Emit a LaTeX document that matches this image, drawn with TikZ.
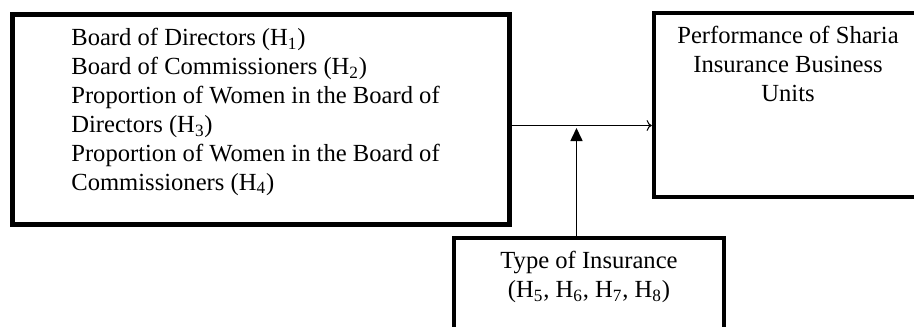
\documentclass[tikz,border=0pt]{standalone}
\usepackage{fontspec}
\setmainfont{Liberation Serif}
\usetikzlibrary{arrows.meta}
\tikzset{
	varbox/.style={draw, line width=2.55pt, inner sep=0pt},
	vartext/.style={inner sep=0pt, font=\fontsize{14}{16.44}\selectfont}
}

\begin{document}
\begin{tikzpicture}
			%%%%% START %%%%%
			
			\useasboundingbox (0, 0) rectangle (18.28, 6.52);
			
			\node[varbox, minimum width=9.94cm, minimum height=4.2cm] (board) at (5.22, 4.13) {};
			\node[varbox, minimum width=5.36cm, minimum height=3.68cm] (perf) at (15.76, 4.42) {};
			\node[varbox, minimum width=5.4cm, minimum height=2.16cm] (insur) at (11.78, 0.68) {};
			
			\node[vartext, align=left, anchor=north west] (boardtxt) at (1.42, 5.96) {Board of Directors (H\textsubscript{1})\\Board of Commissioners (H\textsubscript{2})\\Proportion of Women in the Board of\\Directors (H\textsubscript{3})\\Proportion of Women in the Board of\\Commissioners (H\textsubscript{4})};
			\node[vartext, align=center, anchor=north] (perftxt) at (15.76, 6.0) {Performance of Sharia\\Insurance Business\\Units};
			\node[vartext, align=center, anchor=north] (insurtxt) at (11.78, 1.5) {Type of Insurance\\(H\textsubscript{5}, H\textsubscript{6}, H\textsubscript{7}, H\textsubscript{8})};
			
			\coordinate (meet) at (11.53, 4.01);
			\draw[line width=0.6pt, ->] (board.east |- meet) -- (perf.west |- meet);
			\draw[line width=0.9pt, -{Triangle[length=0.26cm, width=0.24cm]}] (insur.north -| meet) -- ([yshift=-0.05cm]meet);
			
			%%%%% END %%%%%
\end{tikzpicture}
\end{document}
